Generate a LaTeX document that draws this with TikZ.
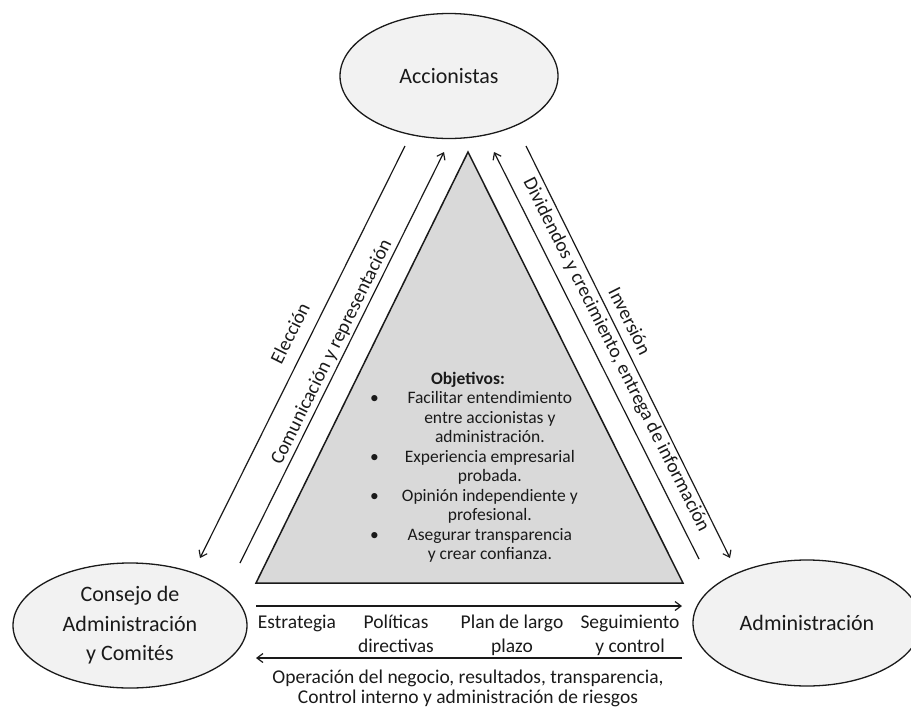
\documentclass[tikz,border=0pt]{standalone}
\usepackage{fontspec}
\setmainfont{Carlito}
\usetikzlibrary{shapes.geometric,arrows.meta}
\definecolor{ellfill}{HTML}{F2F2F2}
\definecolor{trifill}{HTML}{D9D9D9}
\definecolor{ink}{HTML}{1A1A1A}
\begin{document}
\begin{tikzpicture}[x=1pt,y=-1pt,
  party/.style={ellipse, draw=ink, line width=1.3pt, fill=ellfill, inner sep=0pt, align=center, text=ink},
  flow/.style={draw=ink, line width=1.2pt, -{Straight Barb[length=6pt,width=9pt,line width=1.2pt]}},
  lab/.style={font=\fontsize{19.5}{24}\selectfont, inner sep=0pt, text=ink},
  hlab/.style={lab, anchor=north, align=center},
]
\useasboundingbox (0,0) rectangle (911,710);
\clip (0,0) rectangle (911,710);

% parties
\node[party, minimum width=218pt, minimum height=125pt, font=\fontsize{22}{26}\selectfont] (acc) at (449,76) {Accionistas};
\node[party, minimum width=234pt, minimum height=125pt, font=\fontsize{22}{29.5}\selectfont] (con) at (130,625.5) {Consejo de\\Administración\\y Comités};
\node[party, minimum width=228pt, minimum height=126pt, font=\fontsize{22}{26}\selectfont] (adm) at (807,623) {Administración};

% triangle
\coordinate (apex) at (468,152);
\coordinate (bl) at (256,583);
\coordinate (br) at (683,583);
\draw[draw=ink, line width=1.5pt, fill=trifill, line join=miter] (apex) -- (bl) -- (br) -- cycle;

\node[font=\fontsize{17.5}{19.5}\selectfont, inner sep=0pt, text=ink] (obj) at (474,468)
{\begin{tabular}{@{}c@{\hspace{23pt}}c@{}}
\multicolumn{2}{c}{\hspace{-12pt}\textbf{Objetivos:}}\\
\textbullet & Facilitar entendimiento\\
 & entre accionistas y\\
 & administración.\\
\textbullet & Experiencia empresarial\\
 & probada.\\
\textbullet & Opinión independiente y\\
 & profesional.\\
\textbullet & Asegurar transparencia\\
 & y crear confianza.
\end{tabular}};

% diagonal connectors
\coordinate (e1) at (405,146); \coordinate (e2) at (200,558);
\coordinate (c1) at (240,563); \coordinate (c2) at (444,152);
\coordinate (d1) at (699,559); \coordinate (d2) at (494,152);
\coordinate (i1) at (526,146); \coordinate (i2) at (730,558);
\draw[flow] (e1) -- (e2);
\draw[flow] (c1) -- (c2);
\draw[flow] (d1) -- (d2);
\draw[flow] (i1) -- (i2);

\node[lab, rotate=63.5] (lel) at (290,333) {Elección};
\node[lab, rotate=63.5] (lco) at (332,352) {Comunicación y representación};
\node[lab, rotate=-63.3] (ldi) at (616,355) {Dividendos y crecimiento, entrega de información};
\node[lab, rotate=-63.3] (lin) at (630,321) {Inversión};

% horizontal connectors
\coordinate (h1) at (256,606); \coordinate (h2) at (682,606);
\coordinate (g1) at (682,658); \coordinate (g2) at (256,658);
\draw[flow] (h1) -- (h2);
\draw[flow, line width=2pt] (g1) -- (g2);

\node[lab, anchor=base] (les) at (297,628) {Estrategia};
\node[hlab] (lpo) at (396,611.2) {\strut Políticas\\directivas};
\node[hlab] (lpl) at (512,611.2) {\strut Plan de largo\\plazo};
\node[hlab] (lse) at (630,611.2) {\strut Seguimiento\\y control};
\node[hlab, font=\fontsize{19.5}{20.5}\selectfont] (lop) at (468,668.65) {\strut Operación del negocio, resultados, transparencia,\\Control interno y administración de riesgos};
\end{tikzpicture}
\end{document}
